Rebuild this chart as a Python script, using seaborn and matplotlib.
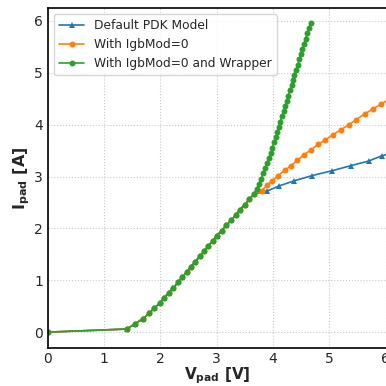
import numpy as np
import pandas as pd
import matplotlib
matplotlib.use("Agg")
import matplotlib.pyplot as plt
import seaborn as sns

# ----------------------------
# Dados (V em volts, I em ampères)
# ----------------------------
# parte comum às três curvas (até o ponto de separação)
v_common = [0.00, 1.40, 1.55, 1.69, 1.80, 1.89, 1.99, 2.06, 2.15, 2.23,
            2.32, 2.39, 2.47, 2.54, 2.62, 2.70, 2.78, 2.85, 2.93, 3.00,
            3.09, 3.17, 3.26, 3.34, 3.41, 3.50, 3.58, 3.66]
i_common = [0.00, 0.06, 0.16, 0.26, 0.36, 0.46, 0.56, 0.66, 0.76, 0.86,
            0.96, 1.06, 1.16, 1.26, 1.36, 1.46, 1.56, 1.66, 1.76, 1.86,
            1.96, 2.06, 2.16, 2.26, 2.36, 2.46, 2.56, 2.66]

# Default PDK Model
v_default = [3.89, 4.11, 4.38, 4.70, 5.04, 5.38, 5.70, 5.93, 6.20]
i_default = [2.72, 2.82, 2.92, 3.02, 3.11, 3.21, 3.30, 3.40, 3.48]

# With IgbMod=0
v_igb = [3.80, 3.89, 3.99, 4.09, 4.21, 4.32, 4.43, 4.55, 4.67, 4.80,
         4.93, 5.07, 5.20, 5.35, 5.48, 5.63, 5.77, 5.92, 6.08]
i_igb = [2.73, 2.83, 2.92, 3.02, 3.12, 3.21, 3.31, 3.42, 3.51, 3.62,
         3.71, 3.81, 3.90, 4.00, 4.10, 4.21, 4.30, 4.40, 4.50]

# With IgbMod=0 and Wrapper
v_wrap = [3.71, 3.75, 3.79, 3.83, 3.86, 3.90, 3.93, 3.96, 3.99, 4.02,
          4.05, 4.08, 4.10, 4.13, 4.16, 4.19, 4.22, 4.25, 4.27, 4.30,
          4.33, 4.35, 4.38, 4.41, 4.44, 4.47, 4.49, 4.52, 4.55, 4.58,
          4.61, 4.64, 4.67]
i_wrap = [2.76, 2.86, 2.96, 3.06, 3.16, 3.26, 3.36, 3.46, 3.56, 3.66,
          3.76, 3.86, 3.96, 4.06, 4.16, 4.26, 4.36, 4.46, 4.56, 4.66,
          4.76, 4.86, 4.96, 5.06, 5.16, 5.26, 5.36, 5.46, 5.56, 5.66,
          5.76, 5.86, 5.96]

series = [
    ("Default PDK Model", v_default, i_default, "#1f77b4", "^"),
    ("With IgbMod=0", v_igb, i_igb, "#ff7f0e", "o"),
    ("With IgbMod=0 and Wrapper", v_wrap, i_wrap, "#2ca02c", "o"),
]

# ----------------------------
# Estilo
# ----------------------------
sns.set_style("whitegrid", {
    "axes.edgecolor": "black",
    "grid.color": "#c8c8c8",
    "grid.linestyle": ":",
    "xtick.direction": "in",
    "ytick.direction": "in",
})
plt.rcParams["font.family"] = ["DejaVu Sans"]

fig = plt.figure(figsize=(3.86, 3.86), dpi=100)
ax = fig.add_axes([0.1236, 0.0992, 0.8798, 0.880])

for label, v, i, color, marker in series:
    df = pd.DataFrame({"V": v_common + v, "I": i_common + i})
    sns.lineplot(data=df, x="V", y="I", ax=ax, color=color, marker=marker,
                 markersize=4.3, markeredgewidth=0, linewidth=1.2,
                 sort=False, estimator=None, label=label)

ax.set_xlim(0, 6.03)
ax.set_ylim(-0.3, 6.25)
ax.set_xticks([0, 1, 2, 3, 4, 5, 6])
ax.set_yticks([0, 1, 2, 3, 4, 5, 6])
ax.tick_params(labelsize=10, length=0)
ax.tick_params(axis="x", pad=3)
for s in ax.spines.values():
    s.set_linewidth(1.2)
ax.grid(True, linewidth=0.8)

ax.set_xlabel(r"$\mathbf{V_{pad}}$ [V]", fontsize=11, fontweight="bold", labelpad=0)
ax.set_ylabel(r"$\mathbf{I_{pad}}$ [A]", fontsize=11.5, fontweight="bold", labelpad=1.5)

ax.legend(loc="upper left", fontsize=8.8, handlelength=2.1, framealpha=0.8)

fig.savefig("out.png", dpi=100)
